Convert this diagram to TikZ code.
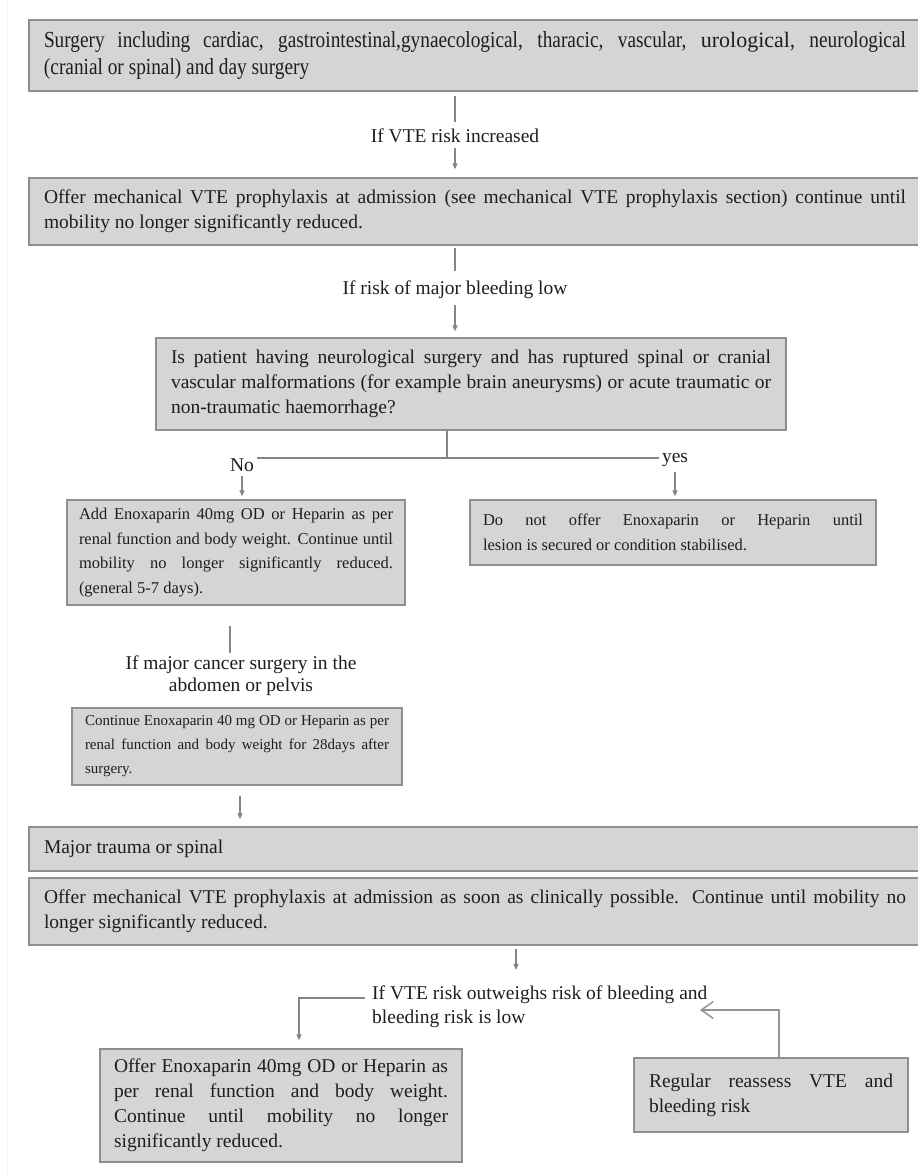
\documentclass[tikz,border=0pt]{standalone}
\usepackage{fontspec}
\setmainfont{Liberation Serif}
\newfontfamily\condfont[FakeStretch=0.84]{Liberation Serif}
\usetikzlibrary{arrows.meta}
\definecolor{boxfill}{HTML}{D3D5D7}
\definecolor{boxdraw}{HTML}{8E8E8E}
\definecolor{linegray}{HTML}{858585}
\definecolor{textcol}{HTML}{1E1E1E}
\tolerance=10000 \hbadness=10000 \hyphenpenalty=10000 \exhyphenpenalty=10000
\begin{document}
\begin{tikzpicture}[x=1pt,y=-1pt,
  box/.style={draw=boxdraw, fill=boxfill, line width=1.3pt, inner sep=0pt, text=textcol, align=justify},
  bodyfont/.style={font=\fontsize{19.5}{25}\selectfont},
  lab/.style={inner sep=3pt, text=textcol, font=\fontsize{19.5}{22}\selectfont},
  conn/.style={draw=linegray, line width=1.1pt},
  arr/.style={conn, -{Triangle[length=6pt,width=5pt]}},
]
\clip (0,0) rectangle (918,1175);
\fill[white] (0,0) rectangle (918,1175);
\draw[black!5, line width=1pt] (7,0) -- (7,1175);

% top box
\node[box, font=\condfont\fontsize{23}{27}\selectfont, minimum width=892pt, minimum height=71pt, text width=862pt] (b1) at (475,55.5)
  {Surgery including cardiac, gastrointestinal,gynaecological, tharacic, vascular, {\rmfamily\fontsize{22}{27}\selectfont urological}, neurological\linebreak (cranial or spinal) and day surgery};

\node[lab] (l1) at (455,136) {If VTE risk increased};
\draw[conn, shorten <=4pt, shorten >=4pt] (b1.south -| l1.north) -- (l1.north);

\node[box, bodyfont, minimum width=892pt, minimum height=67pt, text width=862pt] (b2) at (475,211.5)
  {Offer mechanical VTE prophylaxis at admission (see mechanical VTE prophylaxis section) continue until\linebreak mobility no longer significantly reduced.};
\draw[arr, shorten <=2pt, shorten >=8pt] (l1.south) -- (l1.south |- b2.north);

\node[lab] (l2) at (455,290) {If risk of major bleeding low};
\draw[conn, shorten <=2pt, shorten >=7pt] (b2.south -| l2.north) -- (l2.north);

\node[box, bodyfont, minimum width=630pt, minimum height=92pt, text width=600pt] (b3) at (471,384)
  {Is patient having neurological surgery and has ruptured spinal or cranial\linebreak vascular malformations (for example brain aneurysms) or acute traumatic or\linebreak non-traumatic haemorrhage?};
\draw[arr, shorten <=3pt, shorten >=6pt] (l2.south) -- (l2.south |- b3.north);

% split
\coordinate (j) at (447,458);
\draw[conn] (b3.south -| j) -- (j);
\node[lab] (no) at (242,465) {No};
\node[lab] (yes) at (675,460) {yes};
\draw[conn] (no.east |- j) -- (yes.west |- j);

\node[box, font=\fontsize{16.5}{24.7}\selectfont, minimum width=338pt, minimum height=105pt, text width=314pt] (b4) at (236,552.5)
  {Add Enoxaparin 40mg OD or Heparin as per\linebreak renal function and body weight. Continue until\linebreak mobility no longer significantly reduced.\linebreak (general 5-7 days).};
\draw[arr, shorten <=1pt, shorten >=3pt] (no.south) -- (no.south |- b4.north);

\node[box, font=\fontsize{16.5}{25}\selectfont, minimum width=406pt, minimum height=65pt, text width=380pt] (b5) at (673,532.5)
  {Do not offer Enoxaparin or Heparin until\linebreak lesion is secured or condition stabilised.};
\draw[arr, shorten <=2pt, shorten >=3pt] (yes.south) -- (yes.south |- b5.north);

\node[lab, align=center] (l3) at (241,676) {If major cancer surgery in the\\abdomen or pelvis};
\draw[conn, shorten <=20pt] ([xshift=-6pt]b4.south) -- ([xshift=-6pt]b4.south |- l3.north);

\node[box, font=\fontsize{15}{24}\selectfont, minimum width=330pt, minimum height=77pt, text width=304pt] (b6) at (237,746.5)
  {Continue Enoxaparin 40 mg OD or Heparin as per\linebreak renal function and body weight for 28days after\linebreak surgery.};

\node[box, bodyfont, minimum width=892pt, minimum height=44pt, text width=862pt] (b7) at (475,849)
  {Major trauma or spinal};
\draw[arr, shorten <=10pt, shorten >=7pt] ([xshift=3pt]b6.south) -- ([xshift=3pt]b6.south |- b7.north);

\node[box, bodyfont, minimum width=892pt, minimum height=67pt, text width=862pt] (b8) at (475,911.5)
  {Offer mechanical VTE prophylaxis at admission as soon as clinically possible. Continue until mobility no\linebreak longer significantly reduced.};

\node[lab, anchor=west, align=left, font=\fontsize{19.5}{24}\selectfont] (l5) at (369,1007)
  {If VTE risk outweighs risk of bleeding and\\bleeding risk is low};
\coordinate (a5) at (516,970);
\draw[arr, shorten <=3pt] (b8.south -| a5) -- (a5);

\node[box, bodyfont, minimum width=362pt, minimum height=113pt, text width=334pt] (b9) at (281,1105.5)
  {Offer Enoxaparin 40mg OD or Heparin as\linebreak per renal function and body weight.\linebreak Continue until mobility no longer\linebreak significantly reduced.};
\coordinate (d5) at (299,998);
\draw[arr, shorten <=4pt, shorten >=8pt] (l5.west |- d5) -- (d5) -- (d5 |- b9.north);

\node[box, bodyfont, minimum width=274pt, minimum height=74pt, text width=244pt] (b10) at (771,1095)
  {Regular reassess VTE and\linebreak bleeding risk};
\coordinate (r1) at (779,1010);
\coordinate (r2) at (700,1010);
\draw[conn, line width=1.5pt, draw=black!42, -{Straight Barb[length=12pt,width=17pt]}] (b10.north -| r1) -- (r1) -- (r2);
\end{tikzpicture}
\end{document}
